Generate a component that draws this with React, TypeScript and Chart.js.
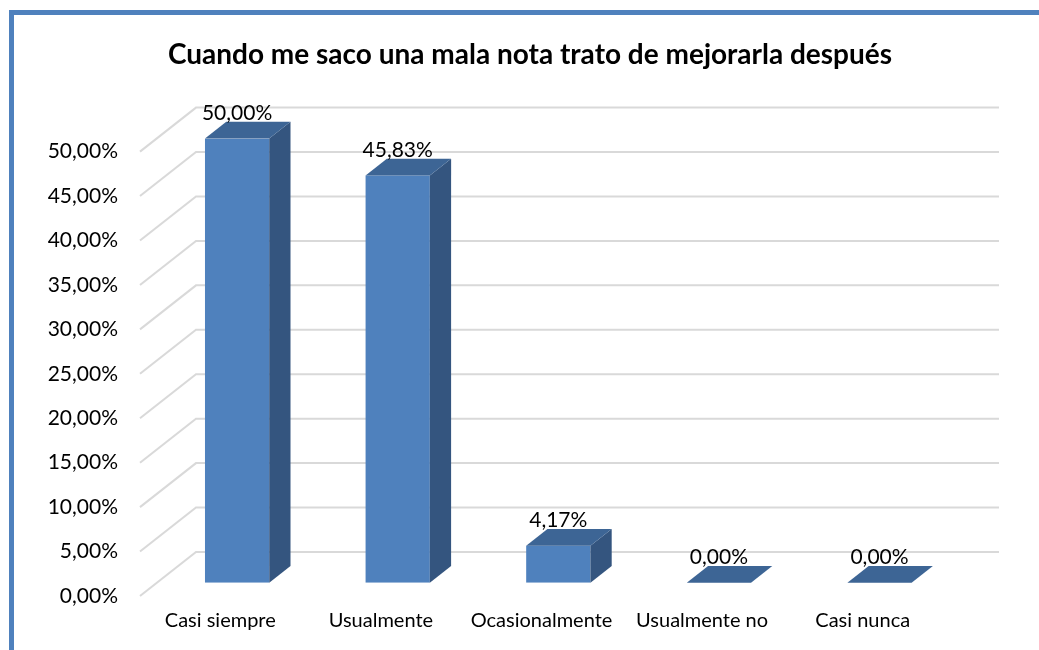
import React, { useEffect, useRef } from "react";
import { Chart, registerables } from "chart.js";

Chart.register(...registerables);

const TITLE = "Cuando me saco una mala nota trato de mejorarla después";
const categories = ["Casi siempre", "Usualmente", "Ocasionalmente", "Usualmente no", "Casi nunca"];
const percentages = [50.0, 45.83, 4.17, 0.0, 0.0];
const yMin = 0;
const yMax = 50;
const yStep = 5;

const FONT = "Lato, 'Open Sans', sans-serif";
const FRONT = "#4F81BD";
const TOP = "#3D6595";
const SIDE = "#34557F";
const GRID = "#D9D9D9";
const DEPTH_X = 56;
const DEPTH_Y = -44;
const BAR_FRONT = 0.3;
const BAR_DEPTH = 0.38;

const fmt = (v: number) => v.toFixed(2).replace(".", ",") + "%";

const threeD = {
  id: "threeD",
  beforeDraw(chart: any) {
    const ctx = chart.ctx;
    ctx.save();
    ctx.fillStyle = "#ffffff";
    ctx.fillRect(0, 0, chart.width, chart.height);
    ctx.strokeStyle = "#4F81BD";
    ctx.lineWidth = 5;
    ctx.strokeRect(11.5, 12.5, chart.width + 100, chart.height + 100);
    ctx.restore();
  },
  beforeDatasetsDraw(chart: any) {
    const { ctx, chartArea: a } = chart;
    const y = chart.scales.y;
    ctx.save();
    ctx.strokeStyle = GRID;
    ctx.lineWidth = 2;
    y.ticks.forEach((t: any) => {
      const py = y.getPixelForValue(t.value);
      ctx.beginPath();
      ctx.moveTo(a.left, py);
      ctx.lineTo(a.left + DEPTH_X, py + DEPTH_Y);
      ctx.lineTo(a.right + DEPTH_X, py + DEPTH_Y);
      ctx.stroke();
    });
    ctx.restore();
    ctx.save();
    ctx.translate(DEPTH_X * BAR_FRONT, DEPTH_Y * BAR_FRONT);
  },
  afterDatasetsDraw(chart: any) {
    const ctx = chart.ctx;
    const meta = chart.getDatasetMeta(0);
    const dx = DEPTH_X * BAR_DEPTH;
    const dy = DEPTH_Y * BAR_DEPTH;
    meta.data.forEach((el: any) => {
      const { x, y, base, width } = el.getProps(["x", "y", "base", "width"], true);
      const l = x - width / 2;
      const r = x + width / 2;
      ctx.fillStyle = SIDE;
      ctx.beginPath();
      ctx.moveTo(r, y);
      ctx.lineTo(r + dx, y + dy);
      ctx.lineTo(r + dx, base + dy);
      ctx.lineTo(r, base);
      ctx.closePath();
      ctx.fill();
      ctx.fillStyle = TOP;
      ctx.beginPath();
      ctx.moveTo(l, y);
      ctx.lineTo(r, y);
      ctx.lineTo(r + dx, y + dy);
      ctx.lineTo(l + dx, y + dy);
      ctx.closePath();
      ctx.fill();
    });
    ctx.restore();
    ctx.save();
    ctx.fillStyle = "#000000";
    ctx.font = `21px ${FONT}`;
    ctx.textAlign = "center";
    ctx.textBaseline = "alphabetic";
    meta.data.forEach((el: any, i: number) => {
      const { x, y } = el.getProps(["x", "y"], true);
      ctx.fillText(
        fmt(percentages[i]),
        x + DEPTH_X * BAR_FRONT,
        y + DEPTH_Y * BAR_FRONT + dy - 2
      );
    });
    ctx.restore();
  },
};

export default function App() {
  const ref = useRef<HTMLCanvasElement | null>(null);
  useEffect(() => {
    if (!ref.current) return;
    const chart = new Chart(ref.current, {
      type: "bar",
      data: {
        labels: categories,
        datasets: [
          {
            data: percentages,
            backgroundColor: FRONT,
            borderWidth: 0,
            barPercentage: 0.4,
            categoryPercentage: 1,
          },
        ],
      },
      options: {
        animation: false,
        responsive: false,
        layout: { padding: { left: 21, right: 0, top: 20, bottom: 0 } },
        plugins: {
          legend: { display: false },
          tooltip: { enabled: false },
          title: {
            display: true,
            text: TITLE,
            color: "#000000",
            font: { family: FONT, size: 28, weight: "bold" },
            padding: { top: 18, bottom: 80 },
          },
        },
        scales: {
          x: {
            grid: { display: false, drawTicks: false },
            border: { display: false },
            ticks: { color: "#000000", font: { family: FONT, size: 20 }, padding: 13, maxRotation: 0 },
            afterFit: (s: any) => {
              s.height = 54;
            },
          },
          y: {
            min: yMin,
            max: yMax,
            grid: { display: false, drawTicks: false },
            border: { display: false },
            ticks: {
              stepSize: yStep,
              color: "#000000",
              font: { family: FONT, size: 21 },
              padding: 22,
              callback: (v: any) => fmt(Number(v)),
            },
            afterFit: (s: any) => {
              s.width = 119;
            },
          },
          yRight: {
            type: "linear",
            position: "right",
            display: true,
            grid: { display: false, drawTicks: false },
            border: { display: false },
            ticks: { display: false },
            afterFit: (s: any) => {
              s.width = 96;
            },
          },
        },
      },
      plugins: [threeD],
    });
    return () => chart.destroy();
  }, []);
  return (
    <div style={{ position: "fixed", left: 0, top: 0, width: 1039, height: 650 }}>
      <canvas ref={ref} width={1039} height={650} style={{ display: "block" }} />
    </div>
  );
}
